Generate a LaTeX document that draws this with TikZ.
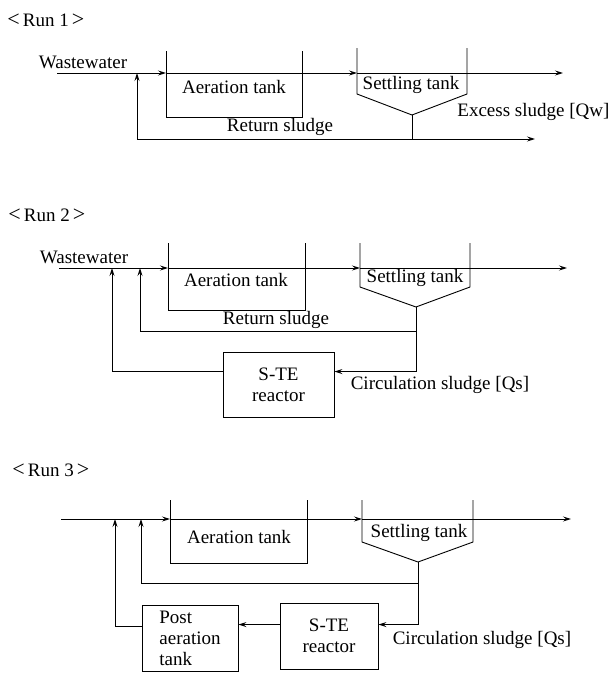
\documentclass[tikz,border=0pt]{standalone}
\usepackage{fontspec}
\setmainfont{Liberation Serif}
\usetikzlibrary{arrows.meta}
\begin{document}
\begin{tikzpicture}[x=1pt,y=-1pt,
  line width=0.9pt,
  arr/.style={-{Stealth[length=8pt,width=5pt,inset=3pt]}},
  lbl/.style={inner sep=0pt, font=\fontsize{19}{21}\selectfont},
  hdr/.style={inner sep=0pt, font=\fontsize{19}{21}\selectfont, anchor=west},
  box/.style={draw, inner sep=0pt, font=\fontsize{19}{21}\selectfont, align=center}]
\useasboundingbox (0,0) rectangle (612,673);

% ================= Run 1 =================
\node[hdr] (h1) at (7,20) {{\fontsize{22}{22}\selectfont<}\hspace{3pt}Run 1\hspace{3pt}{\fontsize{22}{22}\selectfont>}};
\node[lbl] (ww1) at (83,62) {Wastewater};
\coordinate (in1) at (57,73);
\coordinate (j1) at (137,73);
\coordinate (aL1) at (166,73);
\coordinate (sL1) at (357,73);
\coordinate (out1) at (563,73);
\draw (166,51) -- (166,117) -- (302,117) -- (302,51);
\draw (357,48) -- (357,94) -- (412,115) coordinate (apex1) -- (467,94) -- (467,48);
\node[lbl] (at1) at (234,87) {Aeration tank};
\node[lbl] (st1) at (411,85) {Settling tank};
\draw[arr] (in1) -- (aL1);
\draw[arr] (aL1) -- (sL1);
\draw[arr] (sL1) -- (out1);
\coordinate (b1) at (412,139);
\coordinate (ex1) at (535,139);
\draw[arr] (apex1) -- (b1) -| (j1);
\draw[arr] (b1) -- (ex1);
\node[lbl] (rs1) at (280,127) {Return sludge};
\node[lbl, anchor=west] (es1) at (457,112) {Excess sludge [Qw]};

% ================= Run 2 =================
\node[hdr] (h2) at (8,215) {{\fontsize{22}{22}\selectfont<}\hspace{3pt}Run 2\hspace{3pt}{\fontsize{22}{22}\selectfont>}};
\node[lbl] (ww2) at (84,257) {Wastewater};
\coordinate (in2) at (59,268);
\coordinate (jo2) at (112,268);
\coordinate (ji2) at (140,268);
\coordinate (aL2) at (168,268);
\coordinate (sL2) at (360,268);
\coordinate (out2) at (567,268);
\draw (168,243) -- (168,310) -- (305,310) -- (305,243);
\draw (360,243) -- (360,287) -- (416,307) coordinate (apex2) -- (470,287) -- (470,243);
\node[lbl] (at2) at (236,280) {Aeration tank};
\node[lbl] (st2) at (415,278) {Settling tank};
\draw[arr] (in2) -- (aL2);
\draw[arr] (aL2) -- (sL2);
\draw[arr] (sL2) -- (out2);
\coordinate (b2) at (416,331);
\draw[arr] (apex2) -- (b2) -| (ji2);
\node[lbl] (rs2) at (276,320) {Return sludge};
\node[box, minimum width=111pt, minimum height=65pt] (re2) at (278.5,384.5) {S-TE\\reactor};
\draw[arr] (b2) |- ([yshift=-20pt]re2.north east);
\draw[arr] ([yshift=-20pt]re2.north west) -| (jo2);
\node[lbl] (cs2) at (440,385) {Circulation sludge [Qs]};

% ================= Run 3 =================
\node[hdr] (h3) at (12,470) {{\fontsize{22}{22}\selectfont<}\hspace{3pt}Run 3\hspace{3pt}{\fontsize{22}{22}\selectfont>}};
\coordinate (in3) at (61,519);
\coordinate (jo3) at (115,519);
\coordinate (ji3) at (141,519);
\coordinate (aL3) at (170,519);
\coordinate (sL3) at (362,519);
\coordinate (out3) at (571,519);
\draw (170,500) -- (170,563) -- (307,563) -- (307,500);
\draw (362,500) -- (362,542) -- (418,562) coordinate (apex3) -- (473,542) -- (473,500);
\node[lbl] (at3) at (239,537) {Aeration tank};
\node[lbl] (st3) at (419,533) {Settling tank};
\draw[arr] (in3) -- (aL3);
\draw[arr] (aL3) -- (sL3);
\draw[arr] (sL3) -- (out3);
\coordinate (b3) at (418,583);
\draw[arr] (apex3) -- (b3) -| (ji3);
\node[box, minimum width=98pt, minimum height=66pt] (re3) at (329,636) {S-TE\\reactor};
\node[box, align=left, minimum width=96pt, minimum height=66pt] (pa3) at (190,638) {Post\\aeration\\tank};
\draw[arr] (b3) |- ([yshift=-22pt]re3.north east);
\draw[arr] ([yshift=-22pt]re3.north west) -- ([yshift=-20pt]pa3.north east);
\draw[arr] ([yshift=-22pt]pa3.north west) -| (jo3);
\node[lbl] (cs3) at (482,640) {Circulation sludge [Qs]};
\end{tikzpicture}
\end{document}
